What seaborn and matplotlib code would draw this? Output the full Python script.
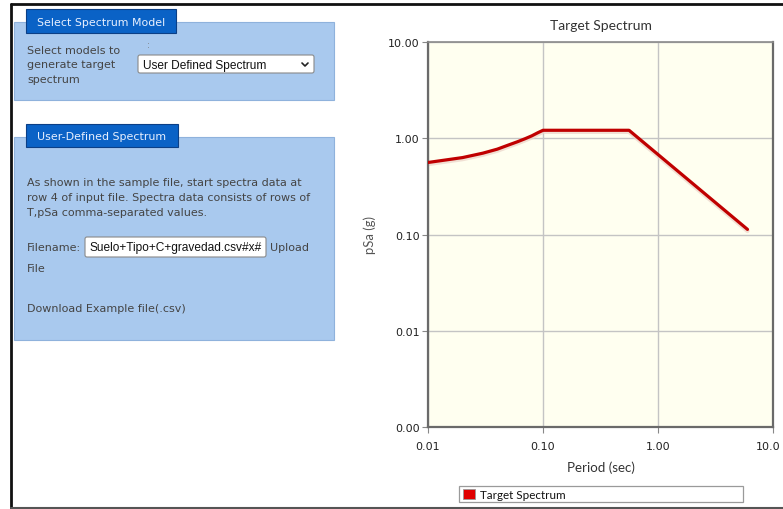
import matplotlib
matplotlib.use("Agg")
import matplotlib.pyplot as plt
import matplotlib.transforms as mtransforms
from matplotlib.patches import Rectangle, FancyBboxPatch
from matplotlib.lines import Line2D
import seaborn as sns
import pandas as pd

# Target spectrum: period (sec) and pseudo spectral acceleration (g)
period = [0.01, 0.02, 0.03, 0.04, 0.05, 0.06, 0.07, 0.08, 0.09, 0.10, 0.56, 6.0]
psa = [0.56, 0.63, 0.70, 0.77, 0.85, 0.92, 0.99, 1.06, 1.14, 1.21, 1.21, 0.113]

x_ticks = [0.01, 0.1, 1.0, 10.0]
x_tick_labels = ["0.01", "0.10", "1.00", "10.0"]
y_ticks = [0.001, 0.01, 0.1, 1.0, 10.0]
y_tick_labels = ["0.00", "0.01", "0.10", "1.00", "10.00"]

W, H = 783, 510
sns.set_theme(style="white")
plt.rcParams["font.family"] = ["DejaVu Sans"]

fig = plt.figure(figsize=(W / 100, H / 100), dpi=100)
fig.patch.set_facecolor("white")

# full-figure overlay in pixel coordinates (y downward)
ov = fig.add_axes([0, 0, 1, 1], zorder=0)
ov.set_xlim(0, W)
ov.set_ylim(H, 0)
ov.axis("off")

# page frame
ov.add_line(Line2D([11, 11], [5, 509], color="#111111", lw=2.0))
ov.add_line(Line2D([11, W], [5, 5], color="#111111", lw=2.0))
ov.add_line(Line2D([11, W], [509, 509], color="#555555", lw=1.5))

panel_col = "#a9c9ee"
panel_edge = "#8fb2dc"
tab_col = "#0a62c6"
tab_edge = "#0b3f86"
ui_text = "#444444"
ui_size = 8.0

def panel(y0, y1):
    ov.add_patch(Rectangle((14, y0), 320, y1 - y0, facecolor=panel_col,
                           edgecolor=panel_edge, lw=0.8))

def tab(x0, x1, y0, y1, label):
    ov.add_patch(Rectangle((x0, y0), x1 - x0, y1 - y0, facecolor=tab_col,
                           edgecolor=tab_edge, lw=0.8))
    ov.text((x0 + x1) / 2, (y0 + y1) / 2 + 0.5, label, color="#e8f0ff",
            fontsize=7.9, ha="center", va="center", family="DejaVu Sans")

# --- Select Spectrum Model panel ---
panel(23, 101)
tab(26, 176, 10, 34, "Select Spectrum Model")
for i, line in enumerate(["Select models to", "generate target", "spectrum"]):
    ov.text(27, 51 + i * 14.5, line, fontsize=ui_size, color=ui_text,
            va="center", ha="left")
ov.text(147, 46, ":", fontsize=6.5, color="#777777", va="center", ha="left")
ov.add_patch(FancyBboxPatch((138, 56), 176, 18,
                            boxstyle="round,pad=0,rounding_size=2",
                            facecolor="white", edgecolor="#8a8a8a", lw=0.8))
ov.text(143, 65.5, "User Defined Spectrum", fontsize=8.6, color="#111111",
        va="center", ha="left", family="Liberation Sans")
ov.plot([302, 305, 308], [64, 67, 64], color="#222222", lw=1.2)

# --- User-Defined Spectrum panel ---
panel(138, 341)
tab(26, 178, 125, 148, "User-Defined Spectrum")
para = ["As shown in the sample file, start spectra data at",
        "row 4 of input file. Spectra data consists of rows of",
        "T,pSa comma-separated values."]
for i, line in enumerate(para):
    ov.text(27, 183 + i * 15, line, fontsize=ui_size, color=ui_text,
            va="center", ha="left")
ov.text(27, 248, "Filename:", fontsize=ui_size, color=ui_text, va="center", ha="left")
ov.add_patch(FancyBboxPatch((85, 238), 181, 20,
                            boxstyle="round,pad=0,rounding_size=2",
                            facecolor="white", edgecolor="#8a8a8a", lw=0.8))
ov.text(89, 248.5, "Suelo+Tipo+C+gravedad.csv#x#", fontsize=8.6, color="#111111",
        va="center", ha="left", family="Liberation Sans")
ov.text(270, 248, "Upload", fontsize=ui_size, color=ui_text, va="center", ha="left")
ov.text(27, 269, "File", fontsize=ui_size, color=ui_text, va="center", ha="left")
ov.text(27, 309, "Download Example file(.csv)", fontsize=ui_size, color=ui_text,
        va="center", ha="left")

# --- Chart ---
px0, px1, py0, py1 = 428, 773, 43, 428
ax = fig.add_axes([px0 / W, 1 - py1 / H, (px1 - px0) / W, (py1 - py0) / H], zorder=2)
ax.set_facecolor("#fffff0")

df = pd.DataFrame({"Period (sec)": period, "pSa (g)": psa})
# soft shadow beneath the line
ax.plot(df["Period (sec)"], [v * 0.965 for v in df["pSa (g)"]],
        color="#ecd3c8", lw=3.2, alpha=0.7, zorder=2)
sns.lineplot(data=df, x="Period (sec)", y="pSa (g)", ax=ax, color="#c00000",
             lw=2.3, zorder=3, estimator=None, sort=False)

ax.set_xscale("log")
ax.set_yscale("log")
ax.set_xlim(0.01, 10)
ax.set_ylim(0.001, 10)
ax.set_xticks(x_ticks)
ax.set_xticklabels(x_tick_labels)
ax.set_yticks(y_ticks)
ax.set_yticklabels(y_tick_labels)
ax.minorticks_off()
ax.grid(True, color="#c4c4c4", lw=1.0)
ax.set_axisbelow(True)
for s in ax.spines.values():
    s.set_color("#6a6a6a")
    s.set_linewidth(1.6)
ax.spines["top"].set_color("#8a8a8a")
ax.spines["top"].set_linewidth(1.2)
ax.tick_params(axis="both", which="major", direction="out", length=4, width=0.8,
               color="#888888", labelsize=8.0, labelcolor="#222222",
               bottom=True, left=True)
ax.tick_params(axis="x", pad=6)
ax.tick_params(axis="y", pad=2)
for lab in ax.get_xticklabels() + ax.get_yticklabels():
    lab.set_family("DejaVu Sans")
# last period label sits at the page edge; nudge it inward
last = ax.get_xticklabels()[-1]
last.set_transform(last.get_transform() +
                   mtransforms.ScaledTranslation(-5 / 100, 0, fig.dpi_scale_trans))

ax.set_xlabel("Period (sec)", fontsize=9.6, color="#333333", family="Lato", labelpad=7)
ax.set_ylabel("pSa (g)", fontsize=9.4, color="#555555", family="Lato", labelpad=9)
ax.set_title("Target Spectrum", fontsize=10, color="#333333", family="Lato", pad=9)

# legend box
ov2 = fig.add_axes([0, 0, 1, 1], zorder=3)
ov2.set_xlim(0, W)
ov2.set_ylim(H, 0)
ov2.axis("off")
ov2.add_patch(Rectangle((459, 487), 284, 16, facecolor="white",
                        edgecolor="#9a9a9a", lw=0.9))
ov2.add_patch(Rectangle((463, 490), 12, 10, facecolor="#e00000",
                        edgecolor="#999999", lw=0.6))
ov2.text(480, 495.5, "Target Spectrum", fontsize=8.4, color="#111111",
         va="center", ha="left", family="Lato")

fig.savefig("out.png", dpi=100, facecolor="white")
